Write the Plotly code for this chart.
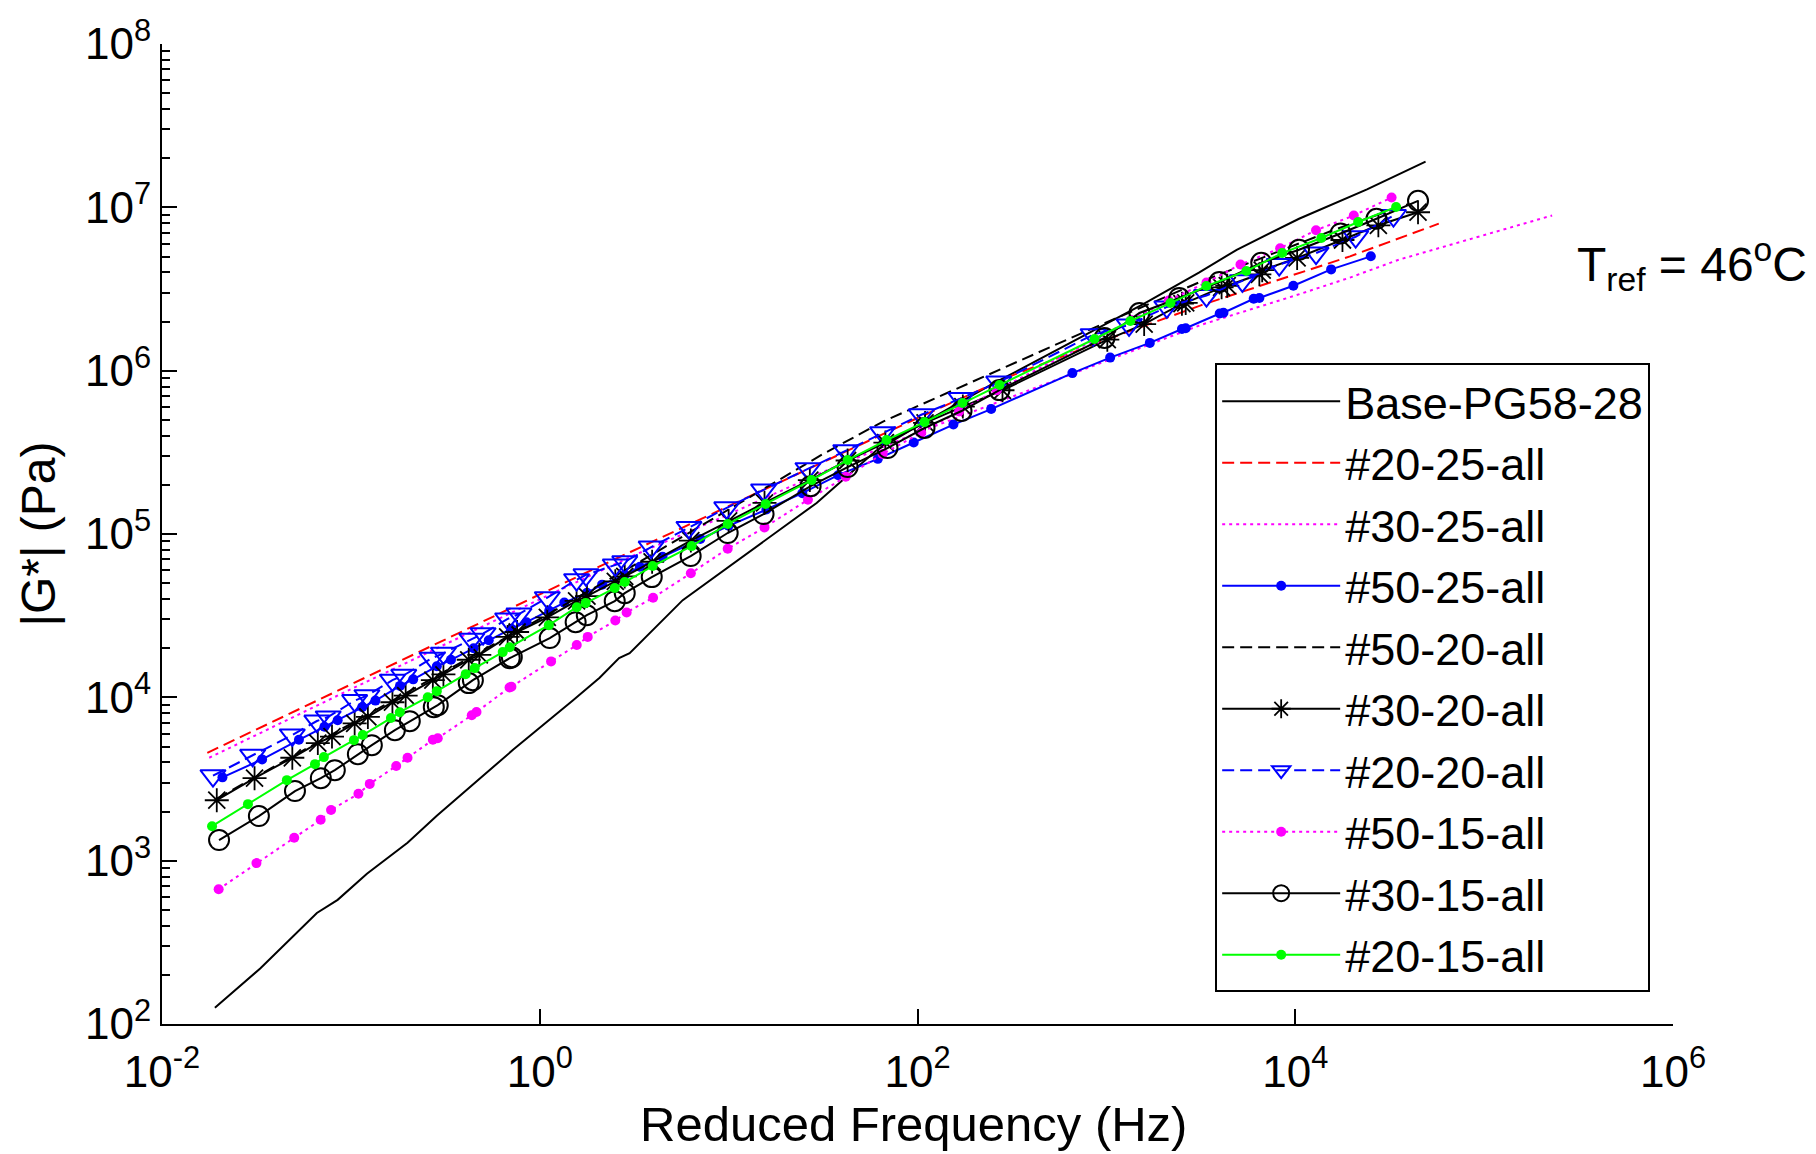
import plotly.graph_objects as go

# ---------------- data (log10 of frequency in Hz, log10 of |G*| in Pa) ----------------
names = ["Base-PG58-28", "#20-25-all", "#30-25-all", "#50-25-all", "#50-20-all",
         "#30-20-all", "#20-20-all", "#50-15-all", "#30-15-all", "#20-15-all"]

base_logf = [-1.72, -1.48, -1.18, -1.07, -0.915, -0.70, -0.545, -0.14, 0.175, 0.317, 0.42, 0.476,
             0.757, 1.18, 1.466, 1.78, 2.0, 2.4, 2.84, 3.2, 3.49, 3.69, 4.02, 4.38, 4.69]
base_logG = [2.10, 2.34, 2.68, 2.76, 2.92, 3.11, 3.275, 3.68, 3.98, 4.12, 4.24, 4.27,
             4.595, 4.95, 5.19, 5.51, 5.66, 5.92, 6.19, 6.41, 6.60, 6.74, 6.93, 7.11, 7.28]

r2025_logf = [-1.76, -1.0, 0.0, 0.48, 1.0, 1.5, 2.0, 2.5, 3.0, 3.5, 4.0, 4.29, 4.76]
r2025_logG = [3.66, 4.08, 4.63, 4.89, 5.17, 5.44, 5.71, 5.97, 6.19, 6.40, 6.59, 6.70, 6.90]

r3025_logf = [-1.75, -1.0, 0.0, 0.48, 1.0, 1.5, 2.0, 2.5, 3.0, 3.5, 4.0, 4.29, 4.55, 5.0, 5.36]
r3025_logG = [3.63, 4.05, 4.60, 4.86, 5.12, 5.38, 5.62, 5.84, 6.06, 6.28, 6.46, 6.57, 6.68, 6.83, 6.95]

r5025_logf = [-1.68, -1.47, -1.275, -1.14, -1.07, -0.94, -0.87, -0.74, -0.67, -0.545, -0.47, -0.35,
              -0.27, -0.15, -0.07, 0.05, 0.13, 0.25, 0.33, 0.45, 0.53, 0.65, 0.85, 1.0, 1.2, 1.39,
              1.58, 1.79, 1.98, 2.19, 2.39, 2.82, 3.02, 3.23, 3.40, 3.42, 3.60, 3.62, 3.78, 3.81,
              3.99, 4.19, 4.40]
r5025_logG = [3.51, 3.62, 3.74, 3.82, 3.86, 3.94, 3.98, 4.07, 4.11, 4.19, 4.23, 4.30,
              4.35, 4.42, 4.46, 4.53, 4.58, 4.64, 4.69, 4.75, 4.80, 4.86, 4.97, 5.05, 5.15, 5.25,
              5.36, 5.46, 5.56, 5.67, 5.765, 5.985, 6.08, 6.17, 6.255, 6.26, 6.35, 6.355, 6.44, 6.445,
              6.52, 6.62, 6.70]

r5020_logf = [-1.71, -1.0, -0.5, 0.0, 0.5, 1.0, 1.5, 1.82, 2.33, 2.87, 3.49, 4.2, 4.6]
r5020_logG = [3.38, 3.84, 4.16, 4.48, 4.81, 5.15, 5.49, 5.69, 5.95, 6.23, 6.54, 6.86, 7.02]

r3020_logf = [-1.71, -1.51, -1.31, -1.175, -1.10, -0.98, -0.91, -0.78, -0.71, -0.566, -0.51, -0.376,
              -0.32, -0.17, -0.12, 0.04, 0.195, 0.25, 0.40, 0.45, 0.595, 0.80, 1.0, 1.19, 1.43, 1.63,
              1.83, 2.04, 2.24, 2.45, 3.005, 3.20, 3.40, 3.42, 3.61, 3.64, 3.81, 3.825, 4.01, 4.25,
              4.44, 4.65]
r3020_logG = [3.37, 3.505, 3.63, 3.72, 3.76, 3.84, 3.88, 3.97, 4.01, 4.105, 4.14, 4.23,
              4.26, 4.37, 4.40, 4.49, 4.59, 4.62, 4.71, 4.74, 4.83, 4.96, 5.08, 5.19, 5.33, 5.45,
              5.56, 5.68, 5.78, 5.88, 6.19, 6.285, 6.41, 6.415, 6.51, 6.52, 6.59, 6.615, 6.69, 6.80,
              6.89, 6.97]

r2020_logf = [-1.73, -1.52, -1.31, -1.18, -1.12, -0.98, -0.915, -0.78, -0.72, -0.57, -0.51, -0.36,
              -0.30, -0.17, -0.11, 0.04, 0.195, 0.245, 0.40, 0.45, 0.59, 0.79, 0.99, 1.185, 1.42,
              1.62, 1.815, 2.02, 2.23, 2.43, 2.93, 3.12, 3.32, 3.53, 3.72, 3.915, 4.11, 4.32, 4.52]
r2020_logG = [3.52, 3.645, 3.77, 3.855, 3.88, 3.98, 4.01, 4.105, 4.135, 4.24, 4.27, 4.356,
              4.39, 4.48, 4.51, 4.61, 4.72, 4.75, 4.81, 4.83, 4.92, 5.04, 5.16, 5.27, 5.40,
              5.51, 5.62, 5.73, 5.83, 5.93, 6.22, 6.28, 6.39, 6.46, 6.55, 6.65, 6.72, 6.82, 6.95]

r5015_logf = [-1.70, -1.50, -1.30, -1.16, -1.105, -0.96, -0.90, -0.76, -0.70, -0.566, -0.54, -0.36,
              -0.335, -0.16, -0.15, 0.06, 0.196, 0.254, 0.40, 0.46, 0.60, 0.80, 0.995, 1.19, 1.42,
              1.62, 1.815, 2.02, 2.22, 2.42, 2.94, 3.13, 3.33, 3.53, 3.71, 3.92, 4.11, 4.31, 4.51]
r5015_logG = [2.825, 2.985, 3.14, 3.25, 3.31, 3.41, 3.47, 3.58, 3.63, 3.74, 3.75, 3.89,
              3.91, 4.06, 4.065, 4.22, 4.32, 4.37, 4.47, 4.52, 4.61, 4.76, 4.91, 5.04, 5.21,
              5.35, 5.49, 5.62, 5.75, 5.88, 6.19, 6.31, 6.43, 6.54, 6.65, 6.75, 6.86, 6.95, 7.06]

r3015_logf = [-1.698, -1.487, -1.296, -1.159, -1.085, -0.963, -0.889, -0.767, -0.688, -0.561, -0.54,
              -0.376, -0.354, -0.159, -0.148, 0.053, 0.19, 0.249, 0.397, 0.45, 0.593, 0.799, 0.995,
              1.185, 1.434, 1.63, 1.841, 2.037, 2.233, 2.434, 2.99, 3.175, 3.386, 3.598, 3.82, 4.02,
              4.24, 4.43, 4.65]
r3015_logG = [3.126, 3.273, 3.426, 3.505, 3.554, 3.652, 3.707, 3.799, 3.854, 3.94, 3.952,
              4.087, 4.105, 4.24, 4.246, 4.363, 4.46, 4.503, 4.589, 4.638, 4.736, 4.865, 5.006,
              5.122, 5.293, 5.41, 5.526, 5.649, 5.753, 5.881, 6.20, 6.353, 6.445, 6.543, 6.66, 6.74,
              6.84, 6.93, 7.04]

r2015_logf = [-1.735, -1.545, -1.339, -1.19, -1.143, -0.984, -0.937, -0.788, -0.741, -0.593, -0.545,
              -0.392, -0.344, -0.196, -0.159, 0.048, 0.196, 0.243, 0.397, 0.45, 0.598, 0.804, 0.995,
              1.196, 1.439, 1.63, 1.836, 2.037, 2.238, 2.434, 2.937, 3.127, 3.339, 3.529, 3.741,
              3.931, 4.138, 4.333, 4.534]
r2015_logG = [3.211, 3.346, 3.493, 3.591, 3.634, 3.738, 3.769, 3.873, 3.909, 4.001, 4.038,
              4.142, 4.179, 4.277, 4.307, 4.442, 4.552, 4.577, 4.669, 4.706, 4.804, 4.926, 5.061,
              5.184, 5.33, 5.453, 5.575, 5.685, 5.802, 5.912, 6.194, 6.304, 6.414, 6.518, 6.61,
              6.72, 6.812, 6.91, 7.002]

x_tickvals = [1e-2, 1e0, 1e2, 1e4, 1e6]
x_ticktext = ["10<sup>-2</sup>", "10<sup>0</sup>", "10<sup>2</sup>", "10<sup>4</sup>", "10<sup>6</sup>"]
y_tickvals = [1e2, 1e3, 1e4, 1e5, 1e6, 1e7, 1e8]
y_ticktext = ["10<sup>2</sup>", "10<sup>3</sup>", "10<sup>4</sup>", "10<sup>5</sup>",
              "10<sup>6</sup>", "10<sup>7</sup>", "10<sup>8</sup>"]
x_title = "Reduced Frequency (Hz)"
y_title = "|G*| (Pa)"
note_text = "T<sub>ref</sub> = 46<sup>o</sup>C"


def pw(vals):
    return [10 ** v for v in vals]


FONT = "Liberation Sans, Arial, Helvetica, sans-serif"
DASH = "12px,6px"
DOT = "3px,4px"

styles = [
    (base_logf, base_logG, dict(color="black", width=2), None),
    (r2025_logf, r2025_logG, dict(color="#FF0000", width=2, dash=DASH), None),
    (r3025_logf, r3025_logG, dict(color="#FF00FF", width=2, dash=DOT), None),
    (r5025_logf, r5025_logG, dict(color="#0000FF", width=2),
     dict(symbol="circle", size=10, color="#0000FF")),
    (r5020_logf, r5020_logG, dict(color="black", width=2, dash=DASH), None),
    (r3020_logf, r3020_logG, dict(color="black", width=2),
     dict(symbol="asterisk-open", size=20, color="black", line=dict(color="black", width=1.8))),
    (r2020_logf, r2020_logG, dict(color="#0000FF", width=2, dash=DASH),
     dict(symbol="triangle-down-open", size=22, color="#0000FF", line=dict(color="#0000FF", width=2))),
    (r5015_logf, r5015_logG, dict(color="#FF00FF", width=2, dash=DOT),
     dict(symbol="circle", size=10, color="#FF00FF")),
    (r3015_logf, r3015_logG, dict(color="black", width=2),
     dict(symbol="circle-open", size=20, color="black", line=dict(color="black", width=2))),
    (r2015_logf, r2015_logG, dict(color="#00FF00", width=2),
     dict(symbol="circle", size=10, color="#00FF00")),
]

fig = go.Figure()
for i, (lf, lg, line, marker) in enumerate(styles):
    kw = dict(x=pw(lf), y=pw(lg), name=names[i], line=line, legendgroup="g%d" % i)
    if marker is None:
        kw["mode"] = "lines"
    else:
        kw["mode"] = "lines+markers"
        kw["marker"] = marker
    fig.add_trace(go.Scatter(**kw))

y_minor = [m * 10 ** e for e in range(2, 8) for m in range(2, 10)]

fig.update_layout(
    width=1816, height=1154,
    margin=dict(l=162, r=143, t=44, b=130, autoexpand=False),
    paper_bgcolor="white", plot_bgcolor="white",
    font=dict(family=FONT, color="black"),
    xaxis=dict(type="log", range=[-2, 6], showline=True, linecolor="black", linewidth=2,
               ticks="inside", ticklen=15, tickwidth=1.5, tickcolor="black",
               tickvals=x_tickvals, ticktext=x_ticktext, tickfont=dict(size=44, family=FONT),
               ticklabelstandoff=8, automargin=False,
               showgrid=False, zeroline=False, mirror=False),
    yaxis=dict(type="log", range=[2, 8], showline=True, linecolor="black", linewidth=2,
               ticks="inside", ticklen=15, tickwidth=1.5, tickcolor="black",
               tickvals=y_tickvals, ticktext=y_ticktext, tickfont=dict(size=44, family=FONT),
               automargin=False,
               minor=dict(tickvals=y_minor, ticks="inside", ticklen=8, tickwidth=1.5,
                          tickcolor="black", showgrid=False),
               showgrid=False, zeroline=False, mirror=False,
               title=dict(text=y_title, font=dict(size=48, family=FONT), standoff=14)),
    legend=dict(x=0.697, y=0.674, xanchor="left", yanchor="top", bordercolor="black",
                borderwidth=2, bgcolor="white", font=dict(size=45, family=FONT, color="black"),
                itemwidth=118, tracegroupgap=0, traceorder="normal"),
    showlegend=True,
)

# x-axis title placed as text under the axis
fig.add_annotation(xref="paper", yref="paper", x=0.4975, y=-0.102, xanchor="center", yanchor="middle",
                   text=x_title, showarrow=False, font=dict(size=49, family=FONT, color="black"))

fig.add_annotation(xref="paper", yref="paper", x=0.935, y=0.7755, xanchor="left", yanchor="middle",
                   text=note_text, showarrow=False, font=dict(size=48, family=FONT, color="black"))

fig.write_html("out.html", config={"displayModeBar": False},
               post_script="document.body.style.margin='0';document.body.style.overflow='hidden';")
